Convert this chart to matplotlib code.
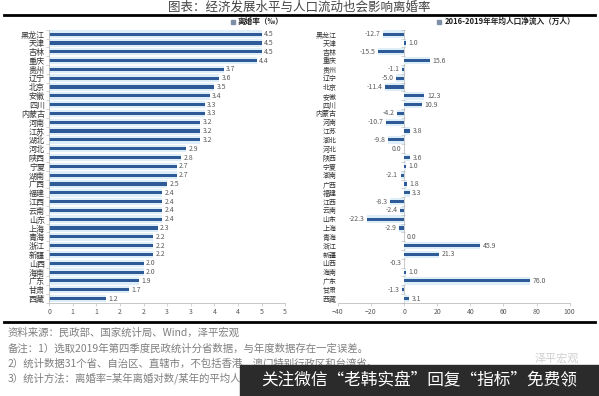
import numpy as np
import matplotlib.pyplot as plt
from matplotlib.lines import Line2D
from matplotlib.patches import Rectangle

plt.rcParams['font.family'] = ['Noto Sans CJK SC', 'DejaVu Sans']

# 省份（按离婚率从高到低）
provinces = ['黑龙江', '天津', '吉林', '重庆', '贵州', '辽宁', '北京', '安徽', '四川', '内蒙古',
             '河南', '江苏', '湖北', '河北', '陕西', '宁夏', '湖南', '广西', '福建', '江西',
             '云南', '山东', '上海', '青海', '浙江', '新疆', '山西', '海南', '广东', '甘肃', '西藏']

# 离婚率（‰）
divorce_rate = [4.5, 4.5, 4.5, 4.4, 3.7, 3.6, 3.5, 3.4, 3.3, 3.3,
                3.2, 3.2, 3.2, 2.9, 2.8, 2.7, 2.7, 2.5, 2.4, 2.4,
                2.4, 2.4, 2.3, 2.2, 2.2, 2.2, 2.0, 2.0, 1.9, 1.7, 1.2]

# 2016-2019年年均人口净流入（万人）
net_inflow = [-12.7, 1.0, -15.5, 15.6, -1.1, -5.0, -11.4, 12.3, 10.9, -4.2,
              -10.7, 3.8, -9.8, -0.04, 3.6, 1.0, -2.1, 1.8, 3.3, -8.3,
              -2.4, -22.3, -2.9, 0.04, 45.9, 21.3, -0.3, 1.0, 76.0, -1.3, 3.1]

left_ticks = np.arange(0, 5.01, 0.5)
left_tick_labels = ['0', '1', '1', '2', '2', '3', '3', '4', '4', '5', '5']
right_ticks = [-40, -20, 0, 20, 40, 60, 80, 100]

title = '图表：经济发展水平与人口流动也会影响离婚率'
notes = ['资料来源：民政部、国家统计局、Wind，泽平宏观',
         '备注：1）选取2019年第四季度民政统计分省数据，与年度数据存在一定误差。',
         '2）统计数据31个省、自治区、直辖市，不包括香港、澳门特别行政区和台湾省。',
         '3）统计方法：离婚率=某年离婚对数/某年的平均人口']

BAR = '#2E5B97'
GLOW = '#DDEEF9'
GREY = '#595959'
AXIS = '#BFBFBF'


def fmt(v):
    s = f'{v:.1f}'
    return '0.0' if s == '-0.0' else s


def legend_entry(ax, x, label):
    # 小方块 + 文字
    ax.plot([x - 0.022], [1.03], marker='s', ms=2.2, color='#7F8FA8',
            transform=ax.transAxes, clip_on=False)
    ax.text(x, 1.03, label, transform=ax.transAxes, ha='left', va='center',
            fontsize=5.5, color='#222222', fontweight='bold')


fig = plt.figure(figsize=(5.99, 3.96), dpi=100)
y = np.arange(len(provinces))

# 左图：离婚率
ax1 = fig.add_axes([0.082, 0.235, 0.394, 0.69])
ax1.barh(y, divorce_rate, height=0.85, color=GLOW, zorder=1)
ax1.barh(y, divorce_rate, height=0.36, color=BAR, zorder=2)
for i, v in enumerate(divorce_rate):
    ax1.text(v + 0.05, i, fmt(v), va='center', ha='left', fontsize=5, color=GREY)
ax1.set_xlim(0, 5)
ax1.set_ylim(len(provinces) - 0.5, -0.5)
ax1.set_xticks(left_ticks)
ax1.set_xticklabels(left_tick_labels)
ax1.set_yticks(y)
ax1.set_yticklabels(provinces)
ax1.set_yticks(np.arange(len(provinces) + 1) - 0.5, minor=True)
ax1.tick_params(axis='y', which='major', length=0, pad=3, labelsize=5.8, labelcolor='#333333')
ax1.tick_params(axis='y', which='minor', length=2, color=AXIS, width=0.5)
ax1.tick_params(axis='x', length=2, color=AXIS, width=0.5, labelsize=5, labelcolor=GREY, pad=2)
for s in ['top', 'right']:
    ax1.spines[s].set_visible(False)
for s in ['left', 'bottom']:
    ax1.spines[s].set_color(AXIS)
    ax1.spines[s].set_linewidth(0.6)
legend_entry(ax1, 0.80, '离婚率（‰）')

# 右图：人口净流入
ax2 = fig.add_axes([0.564, 0.235, 0.387, 0.69])
ax2.barh(y, net_inflow, height=0.85, color=GLOW, zorder=1)
ax2.barh(y, net_inflow, height=0.36, color=BAR, zorder=2)
for i, v in enumerate(net_inflow):
    if v < 0:
        ax2.text(v - 1.5, i, fmt(v), va='center', ha='right', fontsize=5, color=GREY)
    else:
        ax2.text(v + 1.5, i, fmt(v), va='center', ha='left', fontsize=5, color=GREY)
ax2.axvline(0, color=AXIS, lw=0.6, zorder=0)
ax2.plot(np.zeros(len(provinces) + 1) - 0.6, np.arange(len(provinces) + 1) - 0.5,
         ls='none', marker='_', ms=2.5, mew=0.5, color=AXIS)
ax2.set_xlim(-40, 100)
ax2.set_ylim(len(provinces) - 0.5, -0.5)
ax2.set_xticks(right_ticks)
ax2.set_yticks(y)
ax2.set_yticklabels(provinces)
ax2.tick_params(axis='y', length=0, pad=1, labelsize=5, labelcolor='#333333')
ax2.tick_params(axis='x', length=2, color=AXIS, width=0.5, labelsize=5, labelcolor=GREY, pad=2)
for s in ['top', 'right', 'left']:
    ax2.spines[s].set_visible(False)
ax2.spines['bottom'].set_color(AXIS)
ax2.spines['bottom'].set_linewidth(0.6)
legend_entry(ax2, 0.46, '2016-2019年年均人口净流入（万人）')

# 标题与分隔线
fig.text(0.5, 0.982, title, ha='center', va='center', fontsize=9, color='#444444')
fig.add_artist(Line2D([0.006, 0.994], [0.963, 0.963], lw=2, color='black'))
fig.add_artist(Line2D([0.006, 0.994], [0.187, 0.187], lw=2, color='black'))

# 注释
for t, yy in zip(notes, [0.159, 0.119, 0.082, 0.045]):
    fig.text(0.013, yy, t, ha='left', va='center', fontsize=7.5, color='#7F7F7F')

fig.text(0.93, 0.095, '泽平宏观', ha='center', va='center', fontsize=8, color='#D0D0D0')

# 底部水印条
fig.add_artist(Rectangle((0.40, 0.0), 0.60, 0.078, transform=fig.transFigure,
                         color='#2B2B2B', zorder=5))
fig.text(0.70, 0.038, '关注微信“老韩实盘”回复“指标”免费领', ha='center', va='center',
         fontsize=12, color='white', zorder=6)

fig.savefig('out.png', dpi=100)
